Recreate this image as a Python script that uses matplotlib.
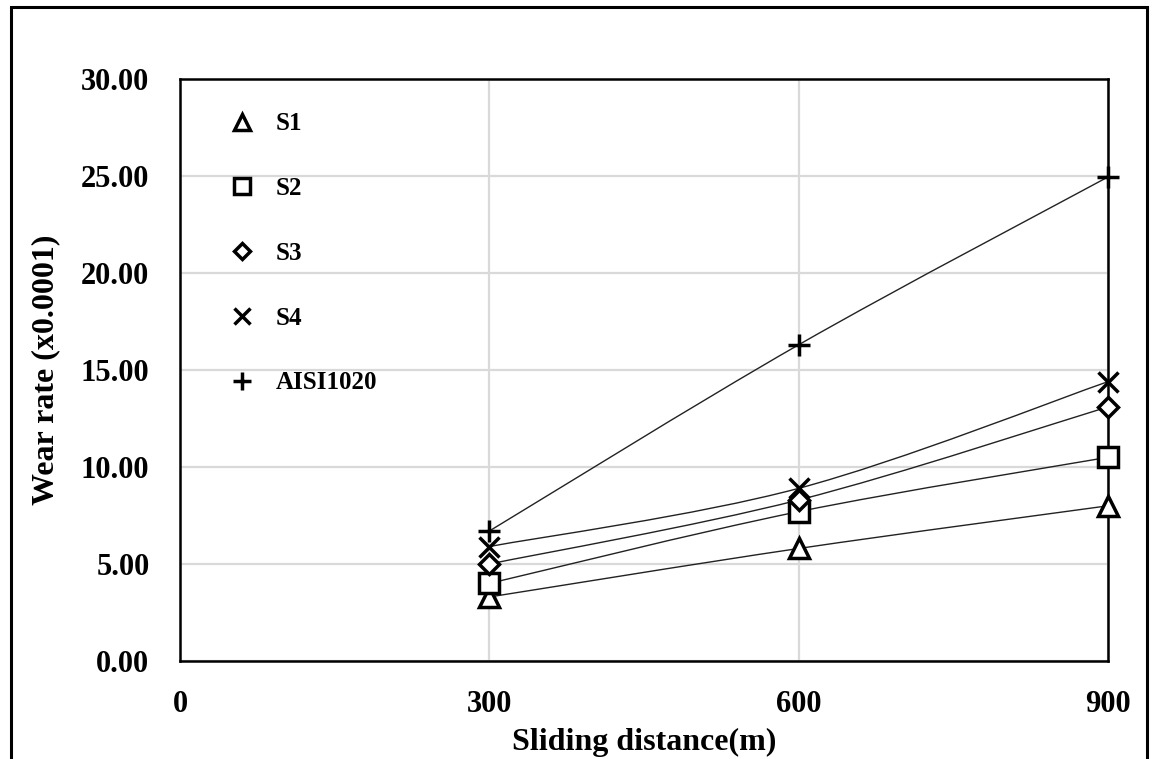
import numpy as np
import matplotlib
matplotlib.use('Agg')
import matplotlib.pyplot as plt
from matplotlib.path import Path
from matplotlib.patches import PathPatch, Rectangle

# data
distance = [300, 600, 900]
series_names = ['S1', 'S2', 'S3', 'S4', 'AISI1020']
s1 = [3.3, 5.8, 8.0]
s2 = [4.0, 7.7, 10.5]
s3 = [5.0, 8.3, 13.1]
s4 = [5.9, 8.9, 14.4]
aisi1020 = [6.7, 16.3, 24.95]
markers = ['^', 's', 'D', 'x', '+']
x_ticks = [0, 300, 600, 900]
y_ticks = [0, 5, 10, 15, 20, 25, 30]

plt.rcParams['font.family'] = 'Liberation Serif'
plt.rcParams['font.weight'] = 'bold'


def smooth_path(xs, ys):
    """Excel-like smoothed line: Catmull-Rom segments as cubic Bezier curves."""
    pts = np.column_stack([xs, ys]).astype(float)
    ext = np.vstack([pts[0], pts, pts[-1]])
    verts = [pts[0]]
    codes = [Path.MOVETO]
    for i in range(len(pts) - 1):
        p0, p1, p2, p3 = ext[i], ext[i + 1], ext[i + 2], ext[i + 3]
        verts += [p1 + (p2 - p0) / 6, p2 - (p3 - p1) / 6, p2]
        codes += [Path.CURVE4] * 3
    return Path(verts, codes)


fig = plt.figure(figsize=(11.52, 7.59), dpi=100)
ax = fig.add_axes([180 / 1152, 1 - 661 / 759, 928 / 1152, 582 / 759])

all_series = [s1, s2, s3, s4, aisi1020]
for name, vals, mk in zip(series_names, all_series, markers):
    ax.add_patch(PathPatch(smooth_path(distance, vals), facecolor='none',
                           edgecolor='#222222', lw=1.0, zorder=3))
    size = {'^': 15, 's': 15, 'D': 10, 'x': 14, '+': 16}[mk]
    ax.plot(distance, vals, linestyle='none', marker=mk, markersize=size,
            markerfacecolor='white', markeredgecolor='black',
            markeredgewidth=2.5, label=name, zorder=4, clip_on=False)

ax.set_xlim(0, 900)
ax.set_ylim(0, 30)
ax.set_xticks(x_ticks)
ax.set_yticks(y_ticks)
ax.set_yticklabels(['%.2f' % v for v in y_ticks])
ax.tick_params(length=0, labelsize=22)
ax.tick_params(axis='x', pad=21)
ax.tick_params(axis='y', pad=22)
ax.grid(True, color='#d9d9d9', lw=1.6, zorder=0)
ax.set_axisbelow(True)
for sp in ax.spines.values():
    sp.set_linewidth(1.8)
    sp.set_color('black')

ax.set_xlabel('Sliding distance(m)', fontsize=23, fontweight='bold', labelpad=6)
ax.set_ylabel('Wear rate (x0.0001)', fontsize=23, fontweight='bold', labelpad=15)

ax.legend(loc='upper left', bbox_to_anchor=(0.043, 0.96), frameon=False,
          fontsize=18, markerscale=0.8, handlelength=1.0, handletextpad=0.82,
          labelspacing=1.67, borderaxespad=0)

# outer border round the whole chart
fig.patches.append(Rectangle((11 / 1152, -0.02), 1136 / 1152, 1.0 - 7 / 759 + 0.02,
                             transform=fig.transFigure, fill=False,
                             edgecolor='black', lw=2.2))

fig.savefig('out.png', dpi=100)
